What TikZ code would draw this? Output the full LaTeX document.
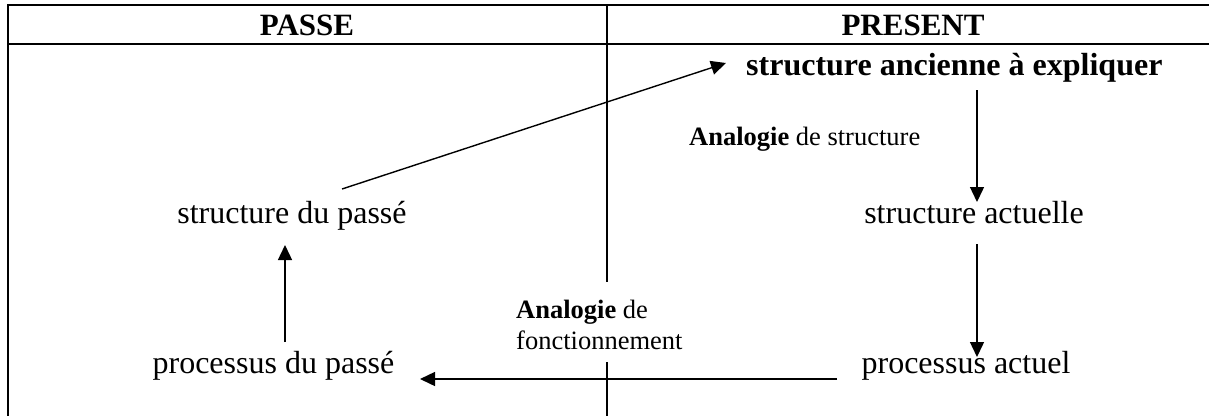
\documentclass[tikz,border=0pt]{standalone}
\usepackage{fontspec}
\setmainfont{Liberation Serif}
\usetikzlibrary{arrows.meta}
\begin{document}
\begin{tikzpicture}[x=1pt,y=-1pt,
  big/.style={inner sep=0pt, font=\fontsize{32}{38}\selectfont},
  head/.style={inner sep=0pt, font=\fontsize{31}{37}\selectfont\bfseries, anchor=base},
  small/.style={inner sep=0pt, font=\fontsize{26.5}{31}\selectfont, anchor=base west},
  rule/.style={line width=2pt},
  arr/.style={line width=1.4pt, -{Triangle[length=15pt,width=14pt]}}]
\useasboundingbox (0,0) rectangle (1209,416);
% table
\draw[rule] (1209,5) -- (7.5,5) -- (7.5,416);
\draw[rule] (7.5,44) -- (1209,44);
\draw[rule] (607,5) -- (607,282);
\draw[rule] (607,362) -- (607,416);
% headers
\node[head] (passe) at (307,35.5) {PASSE};
\node[head] (present) at (913,35.5) {PRESENT};
% nodes
\node[big, anchor=base west, font=\fontsize{32}{38}\selectfont\bfseries] (sae) at (746,75) {structure ancienne à expliquer};
\node[big, anchor=base] (sp) at (292,223) {structure du passé};
\node[big, anchor=base] (sa) at (974,223) {structure actuelle};
\node[big, anchor=base] (pdp) at (273.5,373) {processus du passé};
\node[big, anchor=base] (pa) at (966,373) {processus actuel};
% labels
\node[small] (as) at (689,145) {\textbf{Analogie} de structure};
\node[small] (af1) at (516,318) {\textbf{Analogie} de};
\node[small] (af2) at (516,349) {fonctionnement};
% connectors
\draw[arr] ([shift={(50,-34)}]sp.base) -- ([shift={(-20,-12)}]sae.base west);
\draw[arr] ([shift={(231,15)}]sae.base west) -- ([shift={(3,-21)}]sa.base);
\draw[arr] ([shift={(3,21)}]sa.base) -- ([shift={(11,-16)}]pa.base);
\draw[arr] ([shift={(-129,6)}]pa.base) -- ([shift={(146.5,6)}]pdp.base);
\draw[arr] ([shift={(11.5,-31)}]pdp.base) -- ([shift={(-7,22)}]sp.base);
\end{tikzpicture}
\end{document}
